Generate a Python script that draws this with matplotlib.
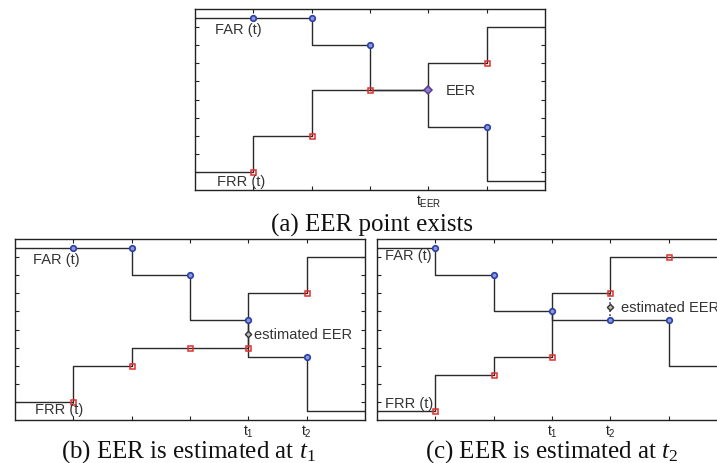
import numpy as np
import matplotlib.pyplot as plt

plt.rcParams['mathtext.fontset'] = 'custom'
plt.rcParams['mathtext.rm'] = 'Liberation Serif'
plt.rcParams['mathtext.it'] = 'Liberation Serif:italic'
plt.rcParams['mathtext.sf'] = 'Liberation Sans'

# thresholds (x axis) and step values of FAR / FRR for each panel
t = [0, 1, 2, 3, 4, 5, 6]
far_a = [9.5, 9.5, 9.5, 8, 5.5, 3.5, 0.5]
frr_a = [1, 1, 3, 5.5, 5.5, 7, 9]
far_b = [9.5, 9.5, 9.5, 8, 5.5, 3.5, 0.5]
frr_b = [1, 1, 3, 4, 4, 7, 9]
far_c = [9.5, 9.5, 8, 6, 5.5, 5.5, 3]
frr_c = [0.5, 0.5, 2.5, 3.5, 7, 9, 9]

ticklab_a = {4: r'$\mathsf{t_{EER}}$'}
ticklab_b = {4: r'$\mathsf{t_1}$', 5: r'$\mathsf{t_2}$'}
ticklab_c = {3: r'$\mathsf{t_1}$', 4: r'$\mathsf{t_2}$'}

captions = ['(a) EER point exists',
            r'(b) EER is estimated at $t_1$',
            r'(c) EER is estimated at $t_2$']

lab_font = dict(family='Liberation Sans', fontsize=10.5, color='#333333')
cap_font = dict(family='Liberation Serif', fontsize=18, color='#111111')


def panel(ax, far, frr, ticklab, skip_eq=False):
    x = np.array(t)
    far = np.array(far)
    frr = np.array(frr)
    ax.plot(x, far, drawstyle='steps-pre', color='#2a2a2a', lw=1.0, zorder=2)
    ax.plot(x, frr, drawstyle='steps-pre', color='#2a2a2a', lw=1.0, zorder=2)
    idx = np.arange(1, 6)
    if skip_eq:
        idx = idx[far[idx] != frr[idx]]
    ax.plot(x[idx], far[idx], 'o', ms=4, mfc='#8a98d8', mec='#2b3fa8',
            mew=1.2, ls='none', zorder=3)
    ax.plot(x[idx], frr[idx], 's', ms=3.6, mfc='none', mec='#e03030',
            mew=1.1, ls='none', zorder=3)
    ax.set_xlim(0, 6)
    ax.set_ylim(0, 10)
    ax.set_xticks(range(1, 6))
    ax.set_xticklabels([ticklab.get(k, '') for k in range(1, 6)], fontsize=10)
    ax.set_yticks(range(1, 10))
    ax.set_yticklabels([])
    ax.tick_params(direction='in', length=3, width=0.8, top=True, right=True,
                   pad=2, colors='#222222')
    for s in ax.spines.values():
        s.set_linewidth(1.0)
        s.set_color('#222222')


fig = plt.figure(figsize=(7.17, 4.64), dpi=100)
W, H = 717.0, 464.0

ax_a = fig.add_axes([195 / W, 1 - 191 / H, 350 / W, 181 / H])
ax_b = fig.add_axes([15 / W, 1 - 421 / H, 350 / W, 181 / H])
ax_c = fig.add_axes([377 / W, 1 - 421 / H, 350 / W, 181 / H])

# (a)
panel(ax_a, far_a, frr_a, ticklab_a, skip_eq=True)
ax_a.plot([4], [far_a[4]], 'D', ms=3.6, mfc='#9080c8', mec='#5a3d9a', mew=1.1, zorder=4)
ax_a.text(0.35, 8.9, 'FAR (t)', va='center', **lab_font)
ax_a.text(0.37, 0.5, 'FRR (t)', va='center', **lab_font)
ax_a.text(4.3, 5.5, 'EER', va='center', **lab_font)

# (b)
panel(ax_b, far_b, frr_b, ticklab_b)
eer_b = (far_b[4] + frr_b[4]) / 2
ax_b.plot([4], [eer_b], 'D', ms=3.2, mfc='#bbbbbb', mec='#333333', mew=1.0, zorder=4)
ax_b.text(0.31, 8.9, 'FAR (t)', va='center', **lab_font)
ax_b.text(0.34, 0.6, 'FRR (t)', va='center', **lab_font)
ax_b.text(4.1, eer_b, 'estimated EER', va='center', **lab_font)

# (c)
panel(ax_c, far_c, frr_c, ticklab_c)
ax_c.plot([4, 4], [far_c[4], frr_c[4]], ':', color='#222222', lw=1.1, zorder=2)
eer_c = (far_c[4] + frr_c[4]) / 2
ax_c.plot([4], [eer_c], 'D', ms=3.2, mfc='#bbbbbb', mec='#333333', mew=1.0, zorder=4)
ax_c.text(0.13, 9.1, 'FAR (t)', va='center', **lab_font)
ax_c.text(0.13, 0.95, 'FRR (t)', va='center', **lab_font)
ax_c.text(4.19, eer_c, 'estimated EER', va='center', **lab_font)

fig.text(372 / W, 1 - 225 / H, captions[0], ha='center', va='center', **cap_font)
fig.text(188 / W, 1 - 452 / H, captions[1], ha='center', va='center', **cap_font)
fig.text(552 / W, 1 - 452 / H, captions[2], ha='center', va='center', **cap_font)

fig.savefig('out.png', dpi=100)
